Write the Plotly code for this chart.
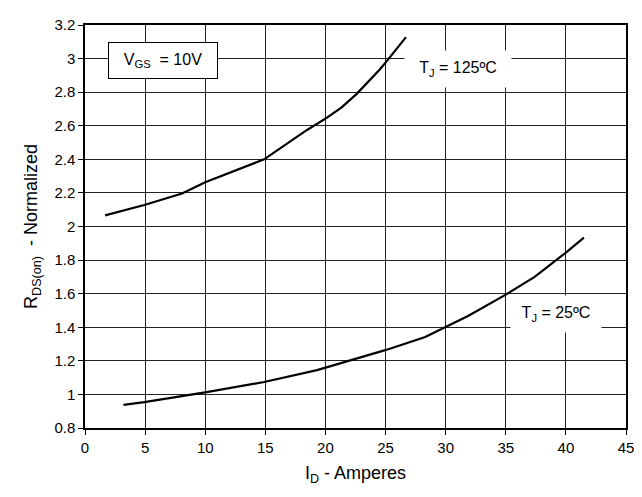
import plotly.graph_objects as go

x_125 = [1.67, 4.93, 8.07, 10.0, 14.9, 18.47, 20.1, 21.35, 22.6, 23.5, 24.5, 25.1, 25.86, 26.7]
y_125 = [2.066, 2.128, 2.196, 2.264, 2.40, 2.575, 2.647, 2.71, 2.79, 2.856, 2.934, 2.985, 3.055, 3.128]

x_25 = [3.2, 4.93, 10.0, 13.5, 14.9, 19.3, 25.04, 28.3, 30.0, 31.9, 35.0, 37.4, 39.95, 41.5]
y_25 = [0.938, 0.954, 1.012, 1.057, 1.074, 1.145, 1.265, 1.342, 1.40, 1.468, 1.594, 1.70, 1.842, 1.934]

x_ticks = [0, 5, 10, 15, 20, 25, 30, 35, 40, 45]
y_ticks = [0.8, 1, 1.2, 1.4, 1.6, 1.8, 2, 2.2, 2.4, 2.6, 2.8, 3, 3.2]

font = "Liberation Sans, Arial, sans-serif"

fig = go.Figure()
for xs, ys in ((x_125, y_125), (x_25, y_25)):
    fig.add_trace(go.Scatter(x=xs, y=ys, mode="lines",
                             line=dict(color="black", width=2.2),
                             showlegend=False))

fig.add_annotation(x=31.0, y=2.94, text="T<sub>J</sub> = 125ºC", showarrow=False,
                   bgcolor="white", font=dict(size=16, color="black", family=font),
                   width=104, height=34)
fig.add_annotation(x=39.2, y=1.48, text="T<sub>J</sub> = 25ºC", showarrow=False,
                   bgcolor="white", font=dict(size=16, color="black", family=font),
                   width=88, height=34)
fig.add_annotation(x=6.5, y=2.99, text="V<sub>GS</sub>  = 10V", showarrow=False,
                   bgcolor="white", bordercolor="black", borderwidth=1,
                   font=dict(size=16, color="black", family=font),
                   width=106, height=33)

fig.update_layout(
    width=634, height=489,
    margin=dict(l=77, r=9, t=8, b=69),
    plot_bgcolor="white", paper_bgcolor="white",
    font=dict(family=font, size=15, color="black"),
    xaxis=dict(range=[0, 45], tickvals=x_ticks, ticks="outside", ticklen=5, tickcolor="black",
               showgrid=True, gridcolor="#222", gridwidth=1, zeroline=False,
               showline=True, linecolor="black", linewidth=1.5, mirror=True,
               title=dict(text="I<sub>D</sub> - Amperes", font=dict(size=18), standoff=12)),
    yaxis=dict(range=[0.8, 3.2], tickvals=y_ticks, ticks="outside", ticklen=5, tickcolor="black",
               showgrid=True, gridcolor="#222", gridwidth=1, zeroline=False,
               showline=True, linecolor="black", linewidth=1.5, mirror=True,
               title=dict(text="R<sub>DS(on)</sub>  - Normalized", font=dict(size=18), standoff=12)),
)

fig.write_html("out.html")
